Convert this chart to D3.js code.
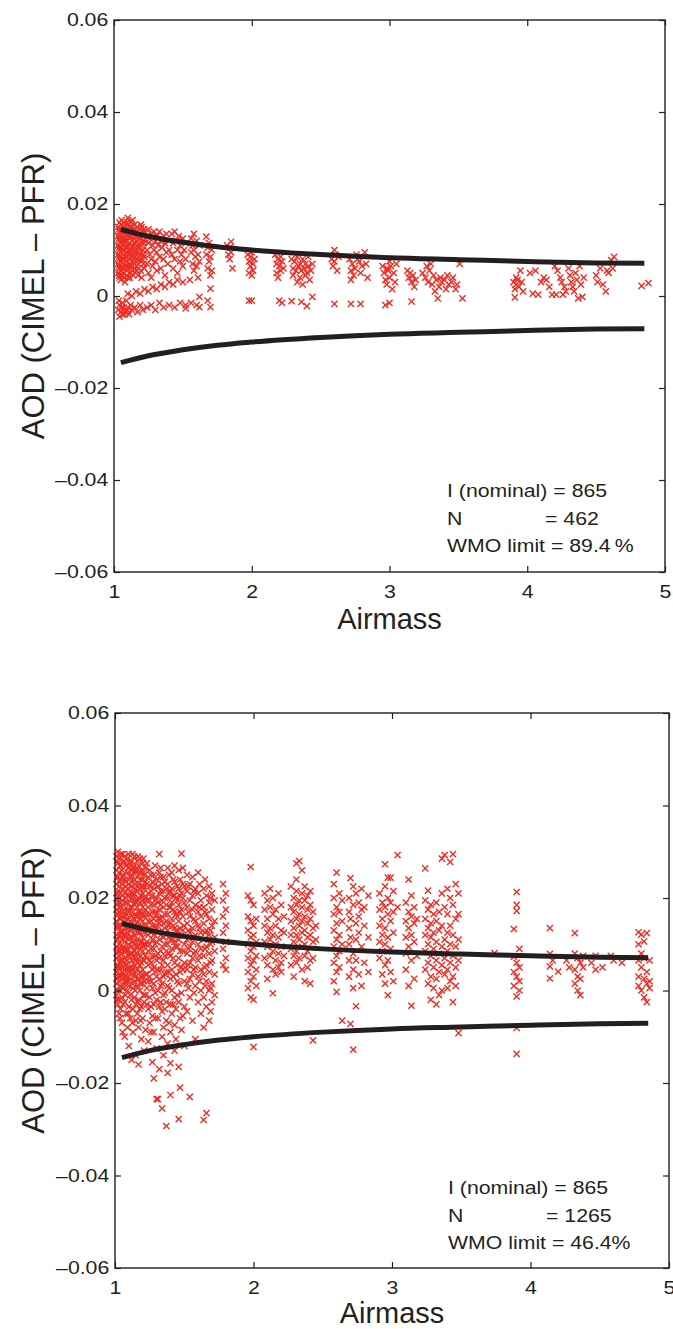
<!DOCTYPE html>
<html>
<head>
<meta charset="utf-8">
<script src="https://cdn.jsdelivr.net/npm/d3@7"></script>
<style>
body { margin: 0; background: #fff; }
text { font-family: "Liberation Sans", Arial, sans-serif; fill: #231f20; }
</style>
</head>
<body>
<svg id="fig" width="673" height="1329"></svg>
<script>

// AOD values are kept in units of 0.001 (CIMEL - PFR difference)
var x_ticks = [1, 2, 3, 4, 5];
var y_ticks = [-60, -40, -20, 0, 20, 40, 60];
var y_tick_labels = ["\u20130.06", "\u20130.04", "\u20130.02", "0", "0.02", "0.04", "0.06"];

// WMO limit curve (drawn as +/-)
var wmo_airmass = [1.05, 1.25, 1.5, 1.75, 2, 2.5, 3, 3.5, 4, 4.5, 4.85];
var wmo_limit   = [14.5, 13.0, 11.7, 10.7, 10.0, 9.0, 8.3, 7.9, 7.5, 7.2, 7.1];

// each entry: [airmass, [AOD differences seen at that airmass]]
var top_cols = [
  [1.03, [15, 13, 11, 9, 7, 5, -3]], [1.035, [14.5, 12.5, 10.5, 8.5, 6.5, 4.5, -1]],
  [1.04, [16, 14, 12, 10, 8, 6, 4, -4.5, -2]], [1.05, [15.5, 13, 11.5, 9.5, 7.5, 5.5, 3.5, -3.5]],
  [1.055, [16.5, 14.5, 12.5, 10.5, 8.5, 6.5, 4.5, -2.5]], [1.06, [14, 12, 10, 8, 6, 4.5, -1.5, -4]],
  [1.07, [16, 13.5, 11, 9, 7, 5, -2.5]], [1.075, [14.5, 12, 10, 8, 6, 4, -4]],
  [1.08, [15, 12.5, 10.5, 8.5, 6.5, 3, -3.5]], [1.09, [14.5, 12, 9.5, 7.5, 5.5, -1]],
  [1.095, [16, 13.5, 10.5, 8.5, 6.5, 4.5, -3]], [1.10, [17, 15.5, 13, 11, 9, 6, 4, 0.5, -2.5]],
  [1.11, [14, 11.5, 8, -4]], [1.115, [15, 12.5, 9.5, 6.5, 4]], [1.12, [16, 13, 10, 7, 5, -2]],
  [1.13, [15, 12, 9, 6.5, 0, -3]], [1.135, [16.5, 13.5, 10.5, 7.5, 5.5]],
  [1.14, [14.5, 11, 8.5, 4.5]], [1.15, [15.5, 13, 10, 7, -2.5]], [1.155, [14.5, 11.5, 8.5, 6]],
  [1.16, [14, 12, 9.5, 5.5, 1]], [1.17, [15, 11, 8, -3.5]], [1.175, [13, 9.5, 7, 4.5]],
  [1.18, [13.5, 10.5, 6]], [1.19, [14.5, 12.5, 9, 0.5, -2]], [1.195, [15.5, 11, 8, 5.5]],
  [1.20, [15, 11.5, 7.5, 4]], [1.21, [13, 10, -3]], [1.215, [14.5, 11.5, 9, 7]], [1.22, [14, 12, 8.5, 6, 1.5]],
  [1.24, [13, 10, 7, -2.5]], [1.25, [14.5, 11.5, 5, 1]], [1.26, [12.5, 9]], [1.27, [13.5, 8, 4, -2]],
  [1.28, [11, 6.5, 2]], [1.29, [14, 10]], [1.30, [12, 7.5, -3]], [1.31, [13, 9.5, 5.5, 1.5]],
  [1.32, [11]], [1.33, [14, 8.5, -1.5]], [1.34, [12, 6, 2.5]], [1.35, [10.5]], [1.36, [13, 8, -2.5]],
  [1.37, [11.5, 4.5, 2]], [1.38, [9.5, 13.5]], [1.39, [7]], [1.40, [12, 10, 3, -2]],
  [1.42, [13.5, 9]], [1.43, [11.5, 6, 2.5]], [1.44, [14, 8, -2.5]], [1.45, [12]], [1.46, [10, 5, 3.5]],
  [1.47, [13]], [1.48, [7.5, 11, -1.5]], [1.49, [9]], [1.50, [12.5, 6.5, 3]], [1.51, [10]],
  [1.52, [8, 11.5, -2, -2.7]], [1.55, [3.5]], [1.56, [12.5, 9.5, -1.5]], [1.57, [11, 7]],
  [1.58, [13.5, 10, 5.5]], [1.59, [8.5]], [1.60, [12, 6.5, -2]], [1.61, [9, 4]], [1.62, [11, 7.5, -0.2, -2.4]],
  [1.67, [12.9, 9]], [1.68, [10.5, 6, -1]], [1.69, [11.5, 7.5]], [1.70, [8.5, 4.5, 1.6, -2.4]], [1.71, [10, 5.5]],
  [1.82, [11]], [1.83, [9]], [1.84, [10.5, 8]], [1.85, [11.8, 9.5]], [1.86, [6]],
  [1.97, [9]], [1.98, [7.5, 5, -1]], [1.99, [8.5, 6.5]], [2.00, [9.5, 4.5, -1]], [2.01, [7, 5.5]], [2.02, [8]],
  [2.17, [9]], [2.18, [7, 5]], [2.19, [8, 4]], [2.20, [6.5, -1]], [2.21, [8.5, 5.5]], [2.22, [7.5, -1.5]], [2.23, [6]],
  [2.29, [8, -1.1]], [2.30, [6, 4.5]], [2.31, [7.5]], [2.32, [5.5]], [2.33, [8.5, 3]], [2.34, [6.5]],
  [2.35, [7, 4]], [2.36, [5.5, -1.3]], [2.37, [8, 2.5]], [2.38, [6]], [2.39, [7, 4.5]], [2.40, [5, -2.2]],
  [2.41, [8.5, 6.5]], [2.42, [3.5]], [2.43, [5.5]], [2.44, [7, -0.2]],
  [2.58, [8]], [2.59, [6.5]], [2.60, [10, 7.5, -1.7]], [2.61, [9]], [2.62, [5.5]], [2.63, [8.5]],
  [2.71, [8]], [2.72, [5.5, 3.5, -1.7]], [2.73, [7]], [2.74, [4.5]], [2.75, [6]], [2.76, [9]], [2.77, [8]],
  [2.78, [7.5]], [2.79, [5, -1.7]], [2.80, [6.5]], [2.82, [9.5]], [2.83, [7]], [2.84, [4]],
  [2.95, [6.5]], [2.96, [5]], [2.97, [3.5, -2]], [2.98, [6, 2.5]], [2.99, [5.5]], [3.00, [4, 7.5, -1.5]],
  [3.01, [6.5]], [3.02, [1.5]], [3.03, [5]], [3.04, [3]], [3.05, [7]],
  [3.13, [5.5]], [3.14, [4]], [3.15, [5]], [3.16, [3, -1.2]], [3.17, [4.5]], [3.18, [2]], [3.19, [3.5]],
  [3.24, [5]], [3.26, [4]], [3.27, [6.5]], [3.28, [3]], [3.29, [5.5]], [3.30, [7]], [3.31, [2.5]],
  [3.32, [4.5]], [3.33, [1]], [3.34, [3.5]], [3.35, [-0.5]], [3.36, [2]], [3.37, [4]], [3.38, [3]],
  [3.40, [3.5]], [3.41, [1.5]], [3.42, [4.5]], [3.43, [2.5]], [3.45, [3]], [3.46, [4]], [3.48, [1.5]],
  [3.49, [2.5]], [3.51, [7]], [3.53, [-0.5]],
  [3.90, [3]], [3.91, [1.5, -0.3]], [3.92, [4, 2.5]], [3.93, [3.5]], [3.94, [2]], [3.95, [5.5]],
  [3.96, [3]], [3.97, [1]],
  [4.02, [5]], [4.04, [0.5]], [4.06, [5.5]], [4.08, [0.3]], [4.10, [3]], [4.12, [4]], [4.14, [3.5]],
  [4.16, [2]], [4.18, [0.3]], [4.20, [6.5]], [4.21, [0.3]], [4.22, [5.5]],
  [4.24, [4]], [4.25, [3]], [4.26, [0.3]], [4.27, [2]], [4.28, [1]], [4.30, [6]], [4.31, [4.5]],
  [4.32, [3]], [4.33, [2]], [4.34, [1]], [4.35, [5]], [4.36, [3.5]], [4.37, [-0.5]], [4.38, [6.5]],
  [4.39, [2.5]], [4.40, [-0.2]], [4.41, [4]],
  [4.50, [4.5]], [4.51, [3]], [4.53, [6]], [4.55, [2.5]], [4.57, [1]], [4.58, [5.5]], [4.59, [5]],
  [4.61, [7.8]], [4.62, [6]], [4.63, [8.5]],
  [4.83, [2.2]], [4.88, [2.8]]
];

var bottom_cols = [
  [1.01, [29, 26, 23, 20, 17.5, 15, 12, 9.5, 7, 4, 1.5, -1]],
  [1.015, [28, 24.5, 21, 18.5, 14, 11, 8, 5, 2.5, -2]],
  [1.02, [30, 27.5, 24.5, 21.5, 19, 16.5, 13.5, 11, 8.5, 5.5, 3, 0, -3]],
  [1.03, [28.5, 25.5, 22.5, 20, 17, 14, 10, 7.5, 5, 2, -2, -5]],
  [1.035, [27, 23.5, 19, 15.5, 12, 8.5, 6, 3, 0, -6]],
  [1.04, [29.5, 27, 24, 21, 18, 15.5, 12.5, 9, 6.5, 3.5, 1, -4]],
  [1.05, [26, 23, 19.5, 16, 13, 11, 8, 5, 2.5, -1.5, -7]],
  [1.055, [29.5, 24.5, 20.5, 17, 14, 9, 6.5, 4, 0.5, -9]],
  [1.06, [28, 25, 22, 18.5, 15, 12, 9.5, 6, 3.5, 0.5, -3]],
  [1.07, [29, 24, 21, 17.5, 14.5, 10.5, 7, 4.5, 1.5, -2.5, -10]],
  [1.075, [27.5, 22.5, 19, 16, 12, 9, 5.5, 3, -1]],
  [1.08, [27, 23.5, 20, 16.5, 13.5, 11.5, 8.5, 5.5, 2, -5]],
  [1.09, [28.5, 25.5, 22, 19, 15.5, 12.5, 9, 6.5, 3, 0, -8]],
  [1.095, [26.5, 24, 20.5, 17.5, 13.5, 11, 7.5, 4.5, 2, -5]],
  [1.10, [29.5, 26.5, 23, 20.5, 17, 14, 10, 7.5, 4, 1, -3.5, -12]],
  [1.11, [27.5, 24.5, 21.5, 18, 15, 11.5, 8, 5, 2.5, -1, -6]],
  [1.12, [28, 25, 22.5, 19.5, 16, 13, 9.5, 6.5, 3.5, -2, -15]],
  [1.125, [29.5, 26, 21, 18, 14.5, 11.5, 8, 5, 1.5, -7]],
  [1.13, [26.5, 23.5, 20.5, 17, 14, 10.5, 7.5, 4.5, 0.5, -4, -9]],
  [1.14, [29, 27, 24, 21, 18.5, 15.5, 12, 8.5, 5.5, 2, -1.5]],
  [1.145, [26, 23, 19.5, 16.5, 13.5, 10, 7, 3.5, 0]],
  [1.15, [25.5, 22, 19, 16, 13, 9.5, 6.5, 3, -3, -6.5, -14]],
  [1.16, [28, 24.5, 21.5, 18, 14.5, 11, 8, 4.5, 1, -5]],
  [1.165, [29, 26, 22.5, 19.5, 16, 12.5, 9.5, 6, 2.5, -2.5]],
  [1.17, [27, 23, 20, 17, 13.5, 10, 7, 2.5, -2, -8, -16]],
  [1.18, [28.5, 25.5, 22, 19, 15.5, 12.5, 9, 5.5, 0, -4]],
  [1.185, [24, 20.5, 17, 13.5, 10.5, 7.5, 4, 1.5, -6.5]],
  [1.19, [26, 22.5, 20.5, 16.5, 14, 10.5, 6, 3, -3.5, -10.5]],
  [1.20, [27.5, 24, 21, 18, 15, 11.5, 8.5, 4.5, 1.5, -6]],
  [1.205, [28.5, 25.5, 22.5, 19.5, 16.5, 13, 10, 6.5, 3, -1]],
  [1.21, [25, 22, 19, 16, 12.5, 9.5, 6.5, 2, -2.5, -13]],
  [1.22, [26.5, 23.5, 20, 17.5, 14, 10, 7.5, 3.5, -1, -8.5]],
  [1.23, [27.5, 23, 19.5, 16.5, 13, 10.5, 7, 3.5, 0.5, -3]],
  [1.24, [24.5, 21, 18, 15, 12, 8.5, 5.5, 2, -4, -11]],
  [1.25, [26, 22.5, 19.5, 16.5, 13.5, 10, 6.5, 3, -1.5, -7]],
  [1.26, [25, 21.5, 18.5, 15, 12.5, 9, 6, 2, -3.5, -9]],
  [1.27, [23.5, 20.5, 17, 14, 11, 7.5, 4.5, 0.5, -5.5, -15.5]],
  [1.28, [25, 22, 18.5, 15.5, 12, 9, 5, 1.5, -3, -9, -19]],
  [1.29, [27, 23, 19.5, 17, 14, 10, 7.5, 4, -0.5, -6]],
  [1.30, [24, 20, 16.5, 13.5, 10.5, 6.5, 3, -2, -12.5, -23.5]],
  [1.31, [22.5, 19, 15.5, 12.5, 8, 4.5, 0, -6, -23.5]],
  [1.32, [29.5, 25.5, 21, 17.5, 14.5, 11, 7, 2.5, -3.5, -17]],
  [1.33, [26.5, 24.5, 21.5, 18.5, 15.5, 12, 8.5, 4.5, 1, -2.5]],
  [1.34, [23, 19.5, 16, 13, 9.5, 5.5, 1.5, -4.5, -10, -25.5]],
  [1.35, [24.5, 21.5, 18, 14.5, 11.5, 6.5, 3, -1, -8, -14]],
  [1.36, [23.5, 20, 16.5, 13.5, 10, 7.5, 3.5, -0.5, -4]],
  [1.37, [22, 18.5, 15, 12, 8.5, 4, -2.5, -6.5, -29.3]],
  [1.38, [26.5, 23, 20, 16.5, 13, 10, 5.5, 1, -11.5, -17.8]],
  [1.39, [25, 21, 18, 14, 11.5, 8, 4, 0.5, -7]],
  [1.40, [21.5, 18, 14.5, 11, 7.5, 2.5, -3, -9, -15.7, -22.6]],
  [1.41, [25.5, 22, 19, 15.5, 12, 9, 4.5, 0, -5]],
  [1.42, [24, 20.5, 17.5, 14, 11, 7, 3, -3]],
  [1.43, [27, 23.5, 20.5, 17, 13.5, 10.5, 6, -1.5, -7.5, -13]],
  [1.44, [20, 16.5, 13, 9.5, 3.5, -4, -10.5]],
  [1.45, [22.5, 19.5, 16, 12.5, 9.5, 5.5, 2, -1]],
  [1.46, [26, 22, 18.5, 15, 11, 7, 1.5, -2.5, -16.5, -27.8]],
  [1.47, [24, 20.5, 17, 13.5, 8.5, 4, -6, -21]],
  [1.48, [29.6, 21, 17.5, 12, 5, -0.5, -8.5]],
  [1.49, [26.5, 23, 20, 16, 13, 8.5, 4.5, -5.5]],
  [1.50, [22.5, 19, 14, 10, 6, 2, -3.5, -12]],
  [1.52, [25, 21.5, 18, 14.5, 11, 8, 4.5, 1.5, -4.5]],
  [1.53, [22.5, 17, 13, 9, 5.5, 0.5]],
  [1.54, [23, 19.5, 16, 12.5, 9.5, 6, 2.5, -1.5, -23]],
  [1.56, [24.5, 20.5, 17.5, 13.5, 10.5, 7, 3.5, -6.5]],
  [1.57, [21.5, 15.5, 11.5, 8, 4.5, -0.5]],
  [1.58, [22, 18.5, 15, 12, 8.5, 5, 1, -10.5]],
  [1.60, [25.5, 21, 17, 14, 10, 6.5, 3, -2.5]],
  [1.61, [23, 18, 13.5, 7.5, 2]],
  [1.62, [19.5, 16, 12.5, 9, 4.5, 0, -5]],
  [1.64, [22, 18, 14.5, 11, 7.5, 3.5, -1.5, -8, -28]],
  [1.65, [24, 17, 12.5, 9, 5, 1]],
  [1.66, [20.5, 16.5, 13, 9.5, 5.5, 2, -3.5, -26.5]],
  [1.68, [22.5, 19, 15.5, 12, 8, 4, 0, -6.5]],
  [1.69, [20, 13, 10, 6, 0.5, -4.5]],
  [1.70, [21, 17.5, 14, 10.5, 6.5, 1.5, -2.5]],
  [1.72, [19.5, 15, 11.5, 8.5, 3.5, -1]],
  [1.78, [23, 19.5, 16, 12.5, 9, 5.5]], [1.80, [21, 17.5, 14, 10.5, 7, 4.5]],
  [1.96, [20.5, 16, 13, 10, 7, 4, 0.5]], [1.98, [26.7, 19.5, 15, 11.5, 8.5, 5.5, 2, -1.5]],
  [2.00, [18.5, 14, 12, 9.5, 6.5, 3, -2, -12.2]], [2.02, [15.5, 10.5, 7.5, 4.5, 1]],
  [2.08, [21, 17.5, 14, 10.5, 7]], [2.10, [19.5, 15.5, 12.5, 9.5, 5.5, 2.5]], [2.12, [22, 18, 13.5, 11, 7.5]],
  [2.14, [20, 16.5, 12, 8.5, 4.5, -0.6]], [2.16, [17.5, 14, 10, 6.5, 3.5]], [2.18, [21, 15.5, 11.5, 8, 5]],
  [2.20, [18.5, 13, 9.5, 6, 4]], [2.22, [16, 12.5, 7.5]],
  [2.27, [22.5, 18, 15, 12, 9, 5.5]], [2.29, [20, 17, 13.5, 10.5, 7.5, 3]],
  [2.31, [27.5, 24, 21.5, 18.5, 15.5, 12, 8.5, 6]], [2.33, [28, 19.5, 16.5, 14, 11, 7]],
  [2.35, [26, 21, 18, 15, 12.5, 9.5, 4.5]], [2.37, [22.5, 19.5, 16, 13, 10, 7.5, 2]],
  [2.39, [20.5, 17.5, 14.5, 11.5, 8.5, 5]], [2.41, [21.5, 18.5, 15.5, 12, 6.5, 1.5]],
  [2.43, [17, 13.5, 10.5, 7, -10.8]], [2.45, [14, 11]],
  [2.58, [23, 20, 16.5, 13, 9.5, 6, 2]], [2.60, [25.5, 18, 14.5, 11, 7.5, 4, -0.3]],
  [2.62, [21, 17, 12, 8.5, 5]], [2.64, [19.5, 15, 10, -6.5]],
  [2.69, [20, 17, 13.5, 10, 6.5, 3]], [2.70, [24.3, 15.5, 11.5, -7.2]], [2.72, [22.5, 18.5, 8, 4.5, 0.5, -12.8]],
  [2.74, [21, 14.5, 11, 6.5, -3.4]], [2.76, [19, 16, 12.5, 3.5]], [2.78, [22, 17.5, 9.5, 1]],
  [2.80, [18, 14, 6]], [2.83, [20.5, 11.5, 4]],
  [2.91, [21, 17.5, 14, 10.5, 7]], [2.93, [19, 15.5, 12, 8.5, 3.5]], [2.95, [27.3, 22.5, 18, 13.5, 10, 5.5, 1.5]],
  [2.97, [24.4, 20, 16.5, 11.5, 6.5, -1]], [2.99, [24.4, 19, 15, 9, 4]], [3.01, [21.5, 17, 12.5, 2]],
  [3.04, [29.3, 18]],
  [3.10, [19, 15, 11.5, 8, 4.5]], [3.12, [24, 17, 13.5, 9.5, 1]], [3.14, [20.5, 16, 12, 6.5, -3.3]],
  [3.16, [18, 14.5, 10.5, 2.5]], [3.18, [15.5, 7.5]],
  [3.24, [26.4, 19.5, 15.5, 12, 8.5, 4.5]], [3.26, [21.6, 17.5, 13.5, 10, 6, 1.5]],
  [3.28, [18.5, 14.5, 11.5, 7.5, 3, -2]], [3.30, [16.5, 12.5, 9, 5, 0.5]],
  [3.32, [19, 15, 10.5, 6.5, 2.5, -3]], [3.34, [17, 13, 8, 4, -1]],
  [3.36, [28.5, 21, 14, 9.5, 5.5, 0]], [3.38, [29.3, 18, 11, 7, 3.5]],
  [3.40, [22, 16.5, 12.5, 8.5, 4.5, 0.5]], [3.42, [27.8, 20, 14, 10, 6, 2]],
  [3.44, [29.5, 18.5, 12, 7.5, 3, -2.5]], [3.46, [23, 15.5, 9.5, 5, 1]], [3.48, [21, 16.5, 11, 6.5, -9.2]],
  [3.74, [8.1]],
  [3.88, [13.3, 7.3, 4, 1]], [3.90, [21.3, 18.5, 17.2, 6, 3, -1.3, -8.1, -13.7]], [3.92, [9, 5, 2, 0]],
  [4.14, [13.5, 7.9, 5.2, 2.6]], [4.16, [6.5]], [4.20, [4.1]], [4.26, [6.5]], [4.28, [5]],
  [4.32, [12.4, 8, 4.5, 1.5]], [4.34, [7, 3, 0]], [4.36, [6, 2.5, -1]], [4.38, [5, 7.5]],
  [4.44, [6]], [4.47, [7.5, 4.5]], [4.52, [5]], [4.58, [7.5]], [4.60, [6.5]], [4.66, [6]],
  [4.78, [12.6, 10, 6.5, 3, 1]], [4.80, [12.1, 8, 5, 0]], [4.82, [10.6, 7, 2.5, -1.5]],
  [4.84, [12.4, 4, 1.5, -2.5]], [4.86, [6.5, 2, 0.5]]
];

var top_info = ["I (nominal) = 865", "N", "= 462", "WMO limit = 89.4\u2009%"];
var bottom_info = ["I (nominal) = 865", "N", "= 1265", "WMO limit = 46.4%"];

// lettering in the original is a bit wider than Helvetica
var sx = 1.15;
var ink = "#231f20", red = "#ee2d24";

var svg = d3.select("#fig");

function draw_panel(box, cols, info) {
    var x = d3.scaleLinear().domain([1, 5]).range([box.left, box.right]);
    var y = d3.scaleLinear().domain([-60, 60]).range([box.bottom, box.top]);
    var g = svg.append("g");

    var pts = [];
    cols.forEach(function(c) { c[1].forEach(function(v) { pts.push([c[0], v]); }); });

    var r = 3.1;
    g.selectAll(".pt").data(pts).enter().append("path")
        .attr("class", "pt")
        .attr("d", function(d) {
            var px = x(d[0]), py = y(d[1]);
            return "M" + (px - r) + "," + (py - r) + "L" + (px + r) + "," + (py + r) +
                   "M" + (px - r) + "," + (py + r) + "L" + (px + r) + "," + (py - r);
        })
        .attr("stroke", red).attr("stroke-width", 1.4).attr("fill", "none");

    var wmo = wmo_airmass.map(function(m, i) { return [m, wmo_limit[i]]; });
    [1, -1].forEach(function(sgn) {
        g.append("path")
            .attr("d", d3.line().curve(d3.curveMonotoneX)
                .x(function(d) { return x(d[0]); })
                .y(function(d) { return y(sgn * d[1]); })(wmo))
            .attr("stroke", ink).attr("stroke-width", 5).attr("fill", "none");
    });

    // axes, ticks pointing inwards on all four sides
    var gl = g.append("g").attr("transform", "translate(" + box.left + ",0)")
        .call(d3.axisLeft(y).tickValues(y_ticks).tickSizeInner(-6).tickSizeOuter(0).tickPadding(5)
            .tickFormat(function(d, i) { return y_tick_labels[i]; }));
    var gb = g.append("g").attr("transform", "translate(0," + box.bottom + ")")
        .call(d3.axisBottom(x).tickValues(x_ticks).tickSizeInner(-6).tickSizeOuter(0).tickPadding(13)
            .tickFormat(d3.format("d")));
    g.append("g").attr("transform", "translate(" + box.right + ",0)")
        .call(d3.axisRight(y).tickValues(y_ticks).tickSizeInner(-6).tickSizeOuter(0).tickFormat(""));
    g.append("g").attr("transform", "translate(0," + box.top + ")")
        .call(d3.axisTop(x).tickValues(x_ticks).tickSizeInner(-6).tickSizeOuter(0).tickFormat(""));
    g.selectAll(".domain").remove();
    g.selectAll(".tick line").attr("stroke", ink).attr("stroke-width", 1.2);
    [gl, gb].forEach(function(a) {
        a.selectAll("text").attr("fill", ink).style("font-size", "18.5px")
            .attr("transform", "scale(" + sx + ",1)");
    });

    g.append("rect")
        .attr("x", box.left).attr("y", box.top)
        .attr("width", box.right - box.left).attr("height", box.bottom - box.top)
        .attr("fill", "none").attr("stroke", ink).attr("stroke-width", 1.4);

    g.append("text")
        .attr("transform", "translate(" + ((box.left + box.right) / 2) + "," + box.xlab + ")")
        .attr("text-anchor", "middle").style("font-size", "29px").text("Airmass");
    g.append("text")
        .attr("transform", "translate(44," + ((box.top + box.bottom) / 2) + ") rotate(-90)")
        .attr("text-anchor", "middle").style("font-size", "31px").text("AOD (CIMEL \u2013 PFR)");

    function note(px, py, s) {
        g.append("text").attr("transform", "translate(" + px + "," + py + ") scale(" + sx + ",1)")
            .style("font-size", "18.5px").text(s);
    }
    note(box.note_x, box.note_y, info[0]);
    note(box.note_x, box.note_y + box.note_dy, info[1]);
    note(box.note_x + 98, box.note_y + box.note_dy, info[2]);
    note(box.note_x, box.note_y + 2 * box.note_dy, info[3]);
}

draw_panel({ left: 114, right: 665, top: 20, bottom: 572, xlab: 629, note_x: 447, note_y: 497, note_dy: 27.5 },
           top_cols, top_info);
draw_panel({ left: 115, right: 669, top: 713, bottom: 1268, xlab: 1323, note_x: 448, note_y: 1194, note_dy: 27.5 },
           bottom_cols, bottom_info);

</script>
</body>
</html>
